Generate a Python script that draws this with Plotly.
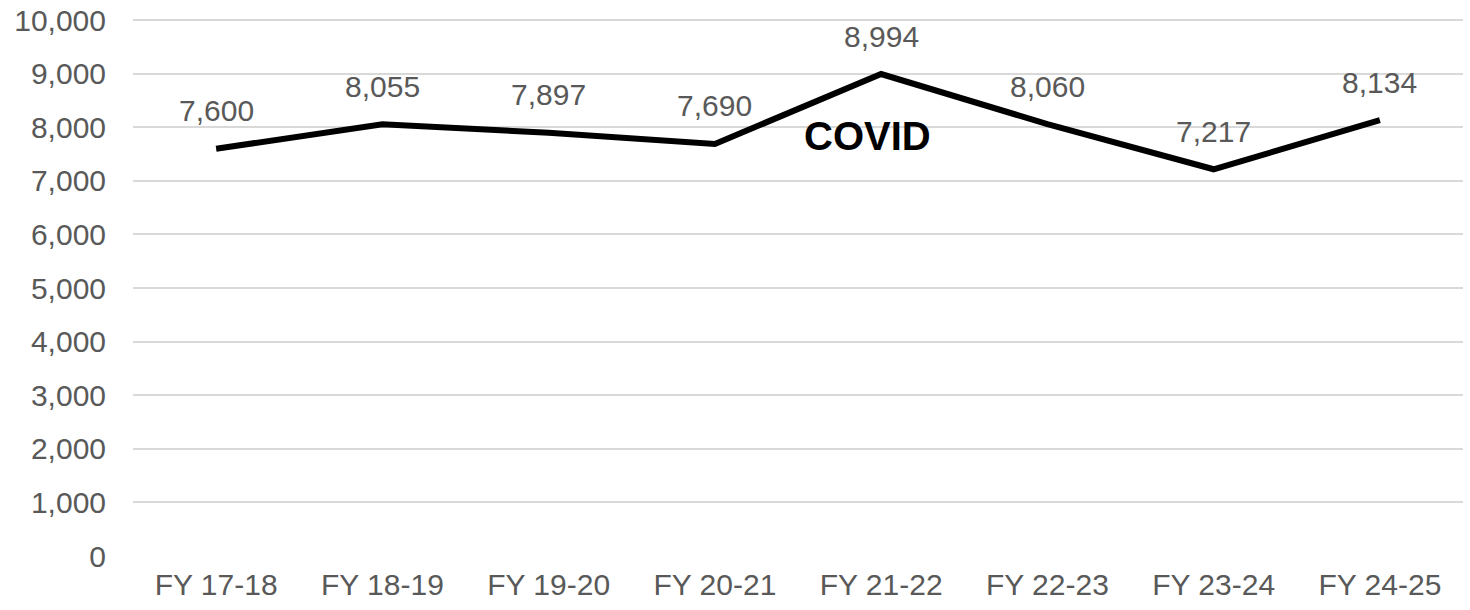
import plotly.graph_objects as go

years = ['FY 17-18', 'FY 18-19', 'FY 19-20', 'FY 20-21',
         'FY 21-22', 'FY 22-23', 'FY 23-24', 'FY 24-25']
counts = [7600, 8055, 7897, 7690, 8994, 8060, 7217, 8134]

grey = '#595959'
font = 'Liberation Sans, Arial, sans-serif'

fig = go.Figure()
fig.add_trace(go.Scatter(x=years, y=counts, mode='lines',
                         line=dict(color='black', width=6), hoverinfo='x+y'))

# data labels above each point
for yr, c in zip(years, counts):
    fig.add_annotation(x=yr, y=c, text=f'{c:,}', showarrow=False,
                       yanchor='middle', yshift=38,
                       font=dict(size=30, color=grey, family=font))

fig.add_annotation(x=0.552, y=7841, xref='paper', yref='y', text='<b>COVID</b>',
                   showarrow=False, font=dict(size=40, color='black', family=font))

fig.update_layout(
    width=1470, height=610,
    margin=dict(l=133, r=7, t=18, b=54, autoexpand=False),
    plot_bgcolor='white', paper_bgcolor='white',
    showlegend=False,
    font=dict(family=font, size=30, color=grey),
)
fig.update_xaxes(range=[-0.5, 7.5], showgrid=False, showline=False,
                 ticks='', ticklabelstandoff=8, automargin=False)
# range a hair above 10,000 so the top gridline is drawn inside the plot
fig.update_yaxes(range=[0, 10040], dtick=1000, tickformat=',',
                 gridcolor='#d9d9d9', gridwidth=2, zeroline=False,
                 showline=False, ticklabelstandoff=26, automargin=False,
                 ticklabeloverflow='allow')

# drop the default 8px page margin so the figure fills the window
fig.write_html('out.html', config={'displayModeBar': False},
               post_script="document.body.style.margin='0';")
